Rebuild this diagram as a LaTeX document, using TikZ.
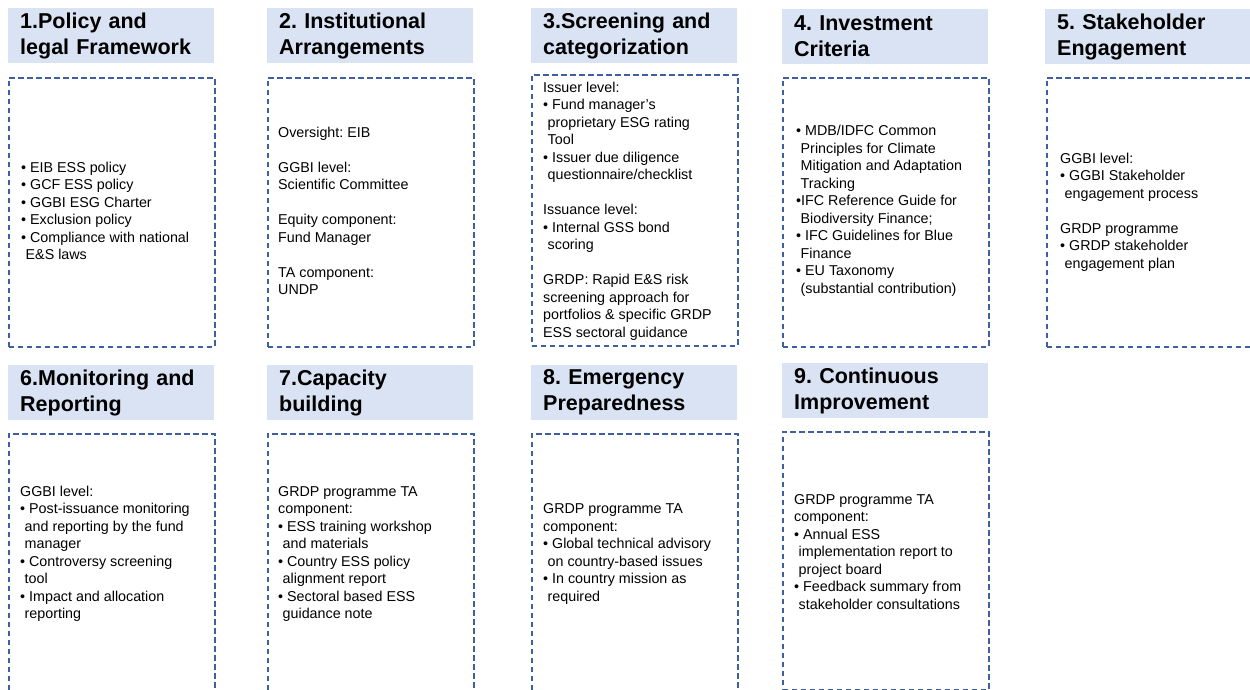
\documentclass[tikz,border=0pt]{standalone}
\usepackage{fontspec}
\setmainfont{Liberation Sans}
\frenchspacing

\definecolor{kopfblau}{RGB}{218,227,243}
\definecolor{rahmenblau}{RGB}{62,96,160}

\newcommand{\punkt}{\textbullet\ }
\newcommand{\einzug}{\hspace*{4.5pt}}

\tikzset{
    kopf/.style={fill=kopfblau, anchor=north west, minimum width=206pt, minimum height=55pt,
        inner xsep=12pt, inner ysep=0pt, text width=182pt, align=left,
        font=\fontsize{21.5}{26}\selectfont\bfseries},
    rahmen/.style={draw=rahmenblau, dash pattern=on 5.5pt off 3.5pt, line width=1.6pt,
        anchor=north west, minimum width=206pt, inner sep=0pt},
    inhalt/.style={anchor=west, align=left, inner sep=0pt,
        font=\fontsize{14.3}{17.5}\selectfont},
}

\begin{document}
\begin{tikzpicture}[x=1pt, y=-1pt]
    % Rand
    \useasboundingbox (0,0) rectangle (1250,690);
    \clip (0,0) rectangle (1250,690);

    % Kopfzeilen
    \foreach \n/\x/\y/\titel in {
        1/8/8/{1.Policy and\\legal Framework},
        2/267/8/{2. Institutional\\Arrangements},
        3/531/8/{3.Screening and\\categorization},
        4/782/9/{4. Investment\\Criteria},
        5/1045/9/{5. Stakeholder\\Engagement},
        6/8/365/{6.Monitoring and\\Reporting},
        7/267/365/{7.Capacity\\building},
        8/531/365/{8. Emergency\\Preparedness},
        9/782/363/{9. Continuous\\Improvement}} {
        \node[kopf] (kopf\n) at (\x,\y) {\titel};
    }

    % Gestrichelte Rahmen
    \foreach \n/\x/\y/\h in {1/8/77/269, 2/267/77/269, 3/531/74/271, 4/782/77/269,
        5/1046/77/269, 6/8/433/300, 7/267/433/300, 8/531/433/300, 9/782/431/258} {
        \node[rahmen, minimum height=\h pt] (rahmen\n) at (\x,\y) {};
    }

    % Inhalte obere Reihe
    \node[inhalt] (text1) at (21,211) {\punkt EIB ESS policy\\
        \punkt GCF ESS policy\\
        \punkt GGBI ESG Charter\\
        \punkt Exclusion policy\\
        \punkt Compliance with national\\
        \einzug E\&S laws};
    \node[inhalt] (text2) at (278,211) {Oversight: EIB\\[17.5pt]
        GGBI level:\\
        Scientific Committee\\[17.5pt]
        Equity component:\\
        Fund Manager\\[17.5pt]
        TA component:\\
        UNDP};
    \node[inhalt] (text3) at (543,211) {Issuer level:\\
        \punkt Fund manager’s\\
        \einzug proprietary ESG rating\\
        \einzug Tool\\
        \punkt Issuer due diligence\\
        \einzug questionnaire/checklist\\[17.5pt]
        Issuance level:\\
        \punkt Internal GSS bond\\
        \einzug scoring\\[17.5pt]
        GRDP: Rapid E\&S risk\\
        screening approach for\\
        portfolios \& specific GRDP\\
        ESS sectoral guidance};
    \node[inhalt] (text4) at (796,211) {\punkt MDB/IDFC Common\\
        \einzug Principles for Climate\\
        \einzug Mitigation and Adaptation\\
        \einzug Tracking\\
        \textbullet IFC Reference Guide for\\
        \einzug Biodiversity Finance;\\
        \punkt IFC Guidelines for Blue\\
        \einzug Finance\\
        \punkt EU Taxonomy\\
        \einzug (substantial contribution)};
    \node[inhalt] (text5) at (1060,212) {GGBI level:\\
        \punkt GGBI Stakeholder\\
        \einzug engagement process\\[17.5pt]
        GRDP programme\\
        \punkt GRDP stakeholder\\
        \einzug engagement plan};

    % Inhalte untere Reihe
    \node[inhalt] (text6) at (20,554) {GGBI level:\\
        \punkt Post-issuance monitoring\\
        \einzug and reporting by the fund\\
        \einzug manager\\
        \punkt Controversy screening\\
        \einzug tool\\
        \punkt Impact and allocation\\
        \einzug reporting};
    \node[inhalt] (text7) at (278,554) {GRDP programme TA\\
        component:\\
        \punkt ESS training workshop\\
        \einzug and materials\\
        \punkt Country ESS policy\\
        \einzug alignment report\\
        \punkt Sectoral based ESS\\
        \einzug guidance note};
    \node[inhalt] (text8) at (543,554) {GRDP programme TA\\
        component:\\
        \punkt Global technical advisory\\
        \einzug on country-based issues\\
        \punkt In country mission as\\
        \einzug required};
    \node[inhalt] (text9) at (794,552) {GRDP programme TA\\
        component:\\
        \punkt Annual ESS\\
        \einzug implementation report to\\
        \einzug project board\\
        \punkt Feedback summary from\\
        \einzug stakeholder consultations};
\end{tikzpicture}
\end{document}
